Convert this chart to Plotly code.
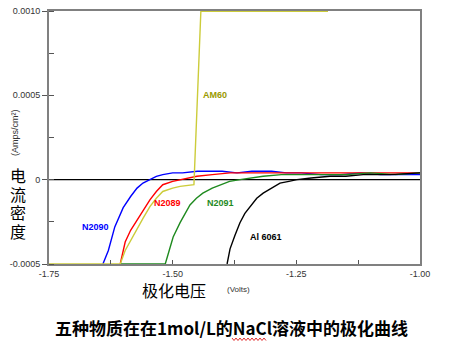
import plotly.graph_objects as go

# ---- data ----
n2090_x = [-1.641, -1.630, -1.617, -1.600, -1.585, -1.572, -1.560, -1.546, -1.533, -1.520, -1.500, -1.480,
           -1.450, -1.420, -1.400, -1.370, -1.340, -1.300, -1.270, -1.240, -1.200, -1.160, -1.120, -1.080, -1.040, -1.000]
n2090_y = [-0.0005, -0.00042, -0.00028, -0.000166, -0.00010, -0.00005, -0.00002, 0.0, 0.00002, 0.00003, 0.00004, 0.00004,
           0.00005, 0.00005, 0.00005, 0.00004, 0.00005, 0.00005, 0.00004, 0.00004, 0.00003, 0.00003, 0.00004, 0.00003, 0.00003, 0.00003]

n2089_x = [-1.606, -1.596, -1.585, -1.572, -1.560, -1.546, -1.533, -1.520, -1.500, -1.485, -1.465, -1.451,
           -1.420, -1.384, -1.350, -1.300, -1.250, -1.200, -1.150, -1.100, -1.050, -1.000]
n2089_y = [-0.0005, -0.00037, -0.00030, -0.00024, -0.00018, -0.00012, -0.00007, -0.00003, -0.00001, 0.0, 0.00001, 0.00002,
           0.00003, 0.00004, 0.00004, 0.00004, 0.00004, 0.00004, 0.00004, 0.00004, 0.00004, 0.00004]

am60_x = [-1.750, -1.606, -1.596, -1.585, -1.572, -1.560, -1.546, -1.533, -1.520, -1.500, -1.485, -1.465, -1.457,
          -1.443, -1.186]
am60_y = [-0.0005, -0.0005, -0.00042, -0.00036, -0.00029, -0.00023, -0.00016, -0.00011, -0.00007, -0.00005, -0.00004,
          -0.00003, -0.00003, 0.000998, 0.000998]

n2091_x = [-1.606, -1.515, -1.507, -1.499, -1.485, -1.475, -1.465, -1.452, -1.439, -1.420, -1.404, -1.385, -1.364,
           -1.340, -1.317, -1.280, -1.249, -1.200, -1.150, -1.100, -1.050, -1.000]
n2091_y = [-0.0005, -0.0005, -0.00042, -0.00034, -0.000255, -0.00020, -0.00015, -0.00011, -0.00008, -0.00005, -0.00003,
           -0.00001, 0.0, 0.00001, 0.00002, 0.00003, 0.00003, 0.00003, 0.00003, 0.00004, 0.00003, 0.00004]

al6061_x = [-1.390, -1.384, -1.374, -1.364, -1.354, -1.344, -1.330, -1.317, -1.300, -1.283, -1.265, -1.249, -1.220,
            -1.182, -1.150, -1.115, -1.060, -1.000]
al6061_y = [-0.0005, -0.00041, -0.00033, -0.000255, -0.00020, -0.00016, -0.00011, -0.00008, -0.00005, -0.00002,
            -0.00001, 0.0, 0.00001, 0.00002, 0.00002, 0.00003, 0.00003, 0.00004]

x_ticks = [-1.75, -1.50, -1.25, -1.00]
x_tick_labels = ["-1.75", "-1.50", "-1.25", "-1.00"]
y_ticks = [-0.0005, 0, 0.0005, 0.0010]
y_tick_labels = ["-0.0005", "0", "0.0005", "0.0010"]

series = [
    ("N2090", n2090_x, n2090_y, "#0000ff", "#0000ff", -1.657, -0.000281),
    ("N2089", n2089_x, n2089_y, "#ff0000", "#ff0000", -1.511, -0.000138),
    ("N2091", n2091_x, n2091_y, "#1f8a1f", "#1f8a1f", -1.404, -0.000138),
    ("Al 6061", al6061_x, al6061_y, "#000000", "#000000", -1.311, -0.00034),
    ("AM60", am60_x, am60_y, "#cccc3a", "#9a9a00", -1.414, 0.000502),
]

fig = go.Figure()
for name, xs, ys, col, lcol, lx, ly in series:
    fig.add_trace(go.Scatter(x=xs, y=ys, mode="lines", name=name,
                             line=dict(color=col, width=1.4), showlegend=False))
    fig.add_annotation(x=lx, y=ly, text="<b>" + name + "</b>", showarrow=False,
                       xanchor="center", yanchor="middle",
                       font=dict(family="Arial, Liberation Sans", size=9, color=lcol))

# zero line
fig.add_shape(type="line", xref="paper", x0=0, x1=1, yref="y", y0=0, y1=0,
              line=dict(color="#000000", width=1.2), layer="below")

axis_font = dict(family="Arial, Liberation Sans", size=9, color="#333333")
fig.update_xaxes(range=[-1.75, -1.00], tickvals=x_ticks, ticktext=x_tick_labels, automargin=False,
                 showgrid=False, zeroline=False, showline=True, mirror=True,
                 linecolor="#808080", linewidth=2, ticks="inside", ticklen=4,
                 tickcolor="#555555", tickfont=axis_font,
                 minor=dict(dtick=0.125, ticks="inside", ticklen=4, tickcolor="#555555"))
fig.update_yaxes(range=[-0.0005, 0.0010], tickvals=y_ticks, ticktext=y_tick_labels, automargin=False,
                 showgrid=False, zeroline=False, showline=True, mirror=True,
                 linecolor="#808080", linewidth=2, ticks="outside", ticklen=5,
                 tickcolor="#555555", tickfont=axis_font,
                 minor=dict(dtick=0.00025, ticks="inside", ticklen=5, tickcolor="#555555"))

W, H = 449, 345
L, R, T, B = 49, 29, 11, 81
pw, ph = W - L - R, H - T - B


def px(xp):
    return (xp - L) / pw


def py(yp):
    return (H - B - yp) / ph


cjk = "Noto Sans CJK SC"


def label(xp, yp, text, font, angle=0):
    fig.add_annotation(xref="paper", yref="paper", x=px(xp), y=py(yp), text=text,
                       textangle=angle, showarrow=False, xanchor="center", yanchor="middle",
                       font=font)


label(15, 133, "(Amps/cm²)", dict(family="Arial, Liberation Sans", size=9, color="#333333"), angle=-90)
for i, ch in enumerate("电流密度"):
    label(18, 175 + 18.7 * i, ch, dict(family=cjk, size=16, color="#000000"))
label(174, 290, "极化电压", dict(family=cjk, size=16, color="#000000"))
label(238, 289, "(Volts)", dict(family="Arial, Liberation Sans", size=8, color="#333333"))
label(231, 327, "<b>五种物质在在1mol/L的NaCl溶液中的极化曲线</b>", dict(family=cjk, size=17, color="#000000"))

# spell-check wavy underline under "NaCl"
pts = []
xw = 232
up = True
while xw <= 267:
    pts.append((px(xw), py(338 if up else 340.5)))
    up = not up
    xw += 2
path = "M " + " L ".join(f"{a:.4f},{b:.4f}" for a, b in pts)
fig.add_shape(type="path", xref="paper", yref="paper", path=path,
              line=dict(color="#e03030", width=1))

fig.update_layout(width=W, height=H, margin=dict(l=L, r=R, t=T, b=B),
                  paper_bgcolor="white", plot_bgcolor="white")

fig.write_html("out.html")
